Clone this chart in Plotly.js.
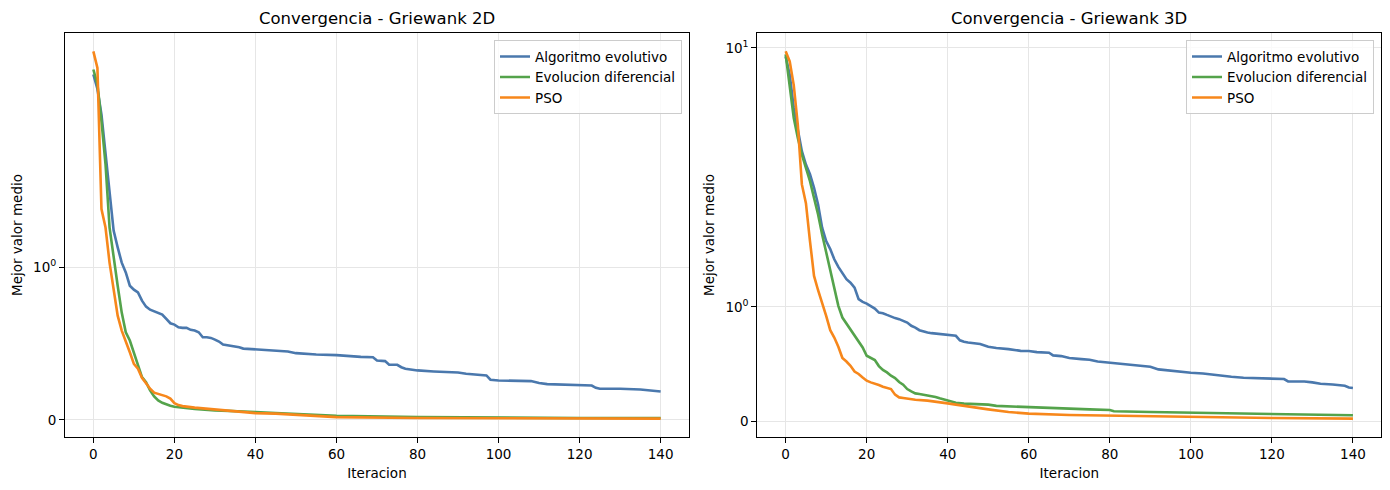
<!DOCTYPE html>
<html lang="es">
<head>
<meta charset="utf-8">
<title>Convergencia - Griewank</title>
<script src="https://cdn.plot.ly/plotly-3.0.1.min.js"></script>
<style>
  html, body { margin: 0; padding: 0; background: #ffffff; }
  #grafico { width: 1390px; height: 490px; }
</style>
</head>
<body>
<div id="grafico"></div>
<script>
// Valores (mejor valor medio por iteracion)
const nombres = ['Algoritmo evolutivo', 'Evolucion diferencial', 'PSO'];
const colores = ['#4a78ad', '#54a34b', '#f7871b'];
const titulos = ['Convergencia - Griewank 2D', 'Convergencia - Griewank 3D'];

// Griewank 2D
const iterAe2d = [0, 1, 2, 3, 4, 5, 6, 7, 8, 9, 10, 11, 12, 13, 14, 15, 16, 17, 18, 19, 20,
  21, 22, 23, 24, 25, 26, 27, 28, 29, 30, 31, 32, 33, 34, 35, 36, 37, 38, 39, 40,
  45, 48, 50, 55, 60, 62, 64, 66, 69, 70, 72, 73, 75, 76, 77, 80, 84, 90, 92, 95,
  97, 98, 100, 108, 110, 112, 121, 123, 124, 125, 130, 135, 140];
const valAe2d = [2.80, 2.48, 2.00, 1.76, 1.50, 1.24, 1.13, 1.03, 0.966, 0.879, 0.853,
  0.835, 0.781, 0.742, 0.722, 0.711, 0.705, 0.690, 0.661, 0.633, 0.624,
  0.607, 0.603, 0.603, 0.590, 0.585, 0.574, 0.541, 0.541, 0.537, 0.526,
  0.513, 0.493, 0.489, 0.487, 0.482, 0.476, 0.467, 0.465, 0.465, 0.461,
  0.450, 0.448, 0.437, 0.428, 0.424, 0.420, 0.415, 0.413, 0.410, 0.389, 0.385, 0.361,
  0.361, 0.345, 0.335, 0.324, 0.317, 0.310, 0.302, 0.297, 0.291, 0.263, 0.258, 0.254,
  0.241, 0.234, 0.227, 0.225, 0.210, 0.204, 0.204, 0.199, 0.186];

const iterDe2d = [0, 1, 2, 3, 4, 5, 6, 7, 8, 9, 10, 11, 12, 13, 14, 15, 16, 17, 18, 19, 20,
  21, 22, 25, 30, 35, 40, 45, 60, 80, 100, 120, 140];
const valDe2d = [2.92, 2.58, 1.957, 1.675, 1.26, 1.062, 0.879, 0.703, 0.574, 0.520, 0.435,
  0.356, 0.280, 0.247, 0.193, 0.154, 0.127, 0.112, 0.101, 0.093, 0.086,
  0.083, 0.080, 0.071, 0.062, 0.058, 0.051, 0.044, 0.027, 0.018, 0.014, 0.012, 0.012];

const iterPso2d = [0, 1, 2, 3, 4, 5, 6, 7, 8, 9, 10, 11, 12, 13, 14, 15, 16, 17, 18, 19, 20,
  21, 22, 25, 30, 35, 40, 45, 60, 80, 140];
const valPso2d = [3.40, 2.96, 1.382, 1.260, 1.029, 0.846, 0.683, 0.585, 0.520, 0.443, 0.367,
  0.335, 0.276, 0.237, 0.204, 0.178, 0.171, 0.160, 0.154, 0.139, 0.110,
  0.097, 0.090, 0.080, 0.067, 0.058, 0.044, 0.041, 0.018, 0.012, 0.008];

// Griewank 3D
const iterAe3d = [0, 1, 2, 3, 4, 5, 6, 7, 8, 9, 10, 11, 12, 13, 14, 15, 16, 17, 18, 19, 20,
  21, 22, 23, 24, 25, 26, 27, 28, 29, 30, 31, 32, 33, 34, 35, 36, 37, 38, 39, 40, 41, 42,
  43, 44, 45, 48, 50, 52, 55, 58, 60, 62, 65, 66, 68, 70, 73, 75, 77, 80, 83, 87, 90,
  92, 95, 97, 100, 103, 105, 108, 110, 113, 117, 120, 123, 124, 128, 130, 132, 135,
  138, 139, 140];
const valAe3d = [9.08, 7.41, 5.11, 4.09, 3.16, 2.72, 2.44, 2.10, 1.893, 1.690, 1.574,
  1.504, 1.415, 1.348, 1.298, 1.241, 1.211, 1.168, 1.067, 1.043, 1.029,
  1.009, 0.985, 0.950, 0.945, 0.930, 0.913, 0.902, 0.893, 0.878, 0.863,
  0.835, 0.820, 0.797, 0.785, 0.777, 0.771, 0.768, 0.765, 0.763, 0.759, 0.757, 0.748,
  0.709, 0.696, 0.690, 0.676, 0.652, 0.641, 0.632, 0.617, 0.615, 0.606, 0.600, 0.577,
  0.571, 0.554, 0.545, 0.539, 0.524, 0.513, 0.502, 0.493, 0.478, 0.455, 0.443, 0.432,
  0.426, 0.420, 0.411, 0.403, 0.391, 0.383, 0.380, 0.377, 0.371, 0.350, 0.350, 0.342,
  0.330, 0.324, 0.313, 0.298, 0.293];

const iterDe3d = [0, 1, 2, 3, 4, 5, 6, 7, 8, 9, 10, 11, 12, 13, 14, 15, 16, 17, 18, 19, 20,
  21, 22, 23, 24, 25, 26, 27, 28, 29, 30, 31, 32, 33, 34, 35, 36, 37, 38,
  40, 42, 44, 46, 48, 50, 52, 55, 60, 65, 70, 75, 80, 81, 90, 100, 110, 120, 130, 140];
const valDe3d = [9.29, 6.58, 4.57, 3.66, 3.04, 2.62, 2.26, 1.950, 1.806, 1.632, 1.472,
  1.304, 1.139, 1.009, 0.907, 0.855, 0.806, 0.748, 0.696, 0.646, 0.574,
  0.559, 0.537, 0.484, 0.450, 0.429, 0.400, 0.380, 0.345, 0.322, 0.284,
  0.263, 0.246, 0.241, 0.235, 0.229, 0.223, 0.215, 0.203,
  0.183, 0.165, 0.157, 0.154, 0.151, 0.148, 0.137, 0.133, 0.122, 0.119, 0.110, 0.107,
  0.102, 0.090, 0.084, 0.078, 0.072, 0.067, 0.063, 0.055];

const iterPso3d = [0, 1, 2, 3, 4, 5, 6, 7, 8, 9, 10, 11, 12, 13, 14, 15, 16, 17, 18, 19, 20,
  21, 22, 23, 24, 25, 26, 27, 28, 29, 30,
  32, 35, 38, 40, 42, 44, 46, 50, 55, 58, 60, 70, 80, 90, 100, 110, 120, 140];
const valPso3d = [9.61, 8.59, 6.58, 4.24, 2.18, 1.904, 1.574, 1.270, 1.145, 1.037, 0.922,
  0.797, 0.733, 0.652, 0.554, 0.524, 0.487, 0.437, 0.415, 0.385, 0.357,
  0.342, 0.333, 0.319, 0.304, 0.293, 0.284, 0.235, 0.211, 0.206, 0.200,
  0.191, 0.183, 0.171, 0.159, 0.148, 0.137, 0.124, 0.107, 0.084, 0.072, 0.070,
  0.058, 0.052, 0.046, 0.043, 0.037, 0.032, 0.026];

const ticksX = [0, 20, 40, 60, 80, 100, 120, 140];

const App = {
  // escala symlog como la de matplotlib (linthresh = 2, base 10)
  umbral: 2,
  escalaLineal: 1 / (1 - 1 / 10),

  symlog(v) {
    const t = this.umbral;
    const a = Math.abs(v);
    if (a <= t) return v * this.escalaLineal;
    return Math.sign(v) * t * (this.escalaLineal + Math.log10(a / t));
  },

  rango(series) {
    const todos = series.flat().map(v => this.symlog(v));
    const min = Math.min(...todos);
    const max = Math.max(...todos);
    const pad = (max - min) * 0.05;
    return [min - pad, max + pad];
  },

  ejeX(dominio, ancla) {
    return {
      domain: dominio,
      anchor: ancla,
      range: [-7, 147],
      tickvals: ticksX,
      ticks: 'outside',
      ticklen: 5,
      tickwidth: 1,
      tickcolor: '#000000',
      showline: true,
      mirror: true,
      linecolor: '#000000',
      linewidth: 1,
      showgrid: true,
      gridcolor: '#e6e6e6',
      gridwidth: 1,
      zeroline: false,
      tickfont: { family: 'DejaVu Sans', size: 13.5, color: '#000000' },
      title: { text: 'Iteracion', standoff: 7, font: { family: 'DejaVu Sans', size: 13.5, color: '#000000' } }
    };
  },

  ejeY(dominio, ancla, rango, maxDecada) {
    const vals = [0];
    const textos = ['0'];
    for (let d = 0; d <= maxDecada; d++) {
      vals.push(this.symlog(Math.pow(10, d)));
      textos.push('10<sup>' + d + '</sup>');
    }
    return {
      domain: dominio,
      anchor: ancla,
      range: rango,
      tickvals: vals,
      ticktext: textos,
      ticks: 'outside',
      ticklen: 5,
      tickwidth: 1,
      tickcolor: '#000000',
      showline: true,
      mirror: true,
      linecolor: '#000000',
      linewidth: 1,
      showgrid: true,
      gridcolor: '#e6e6e6',
      gridwidth: 1,
      zeroline: false,
      tickfont: { family: 'DejaVu Sans', size: 13.5, color: '#000000' },
      title: { text: 'Mejor valor medio', standoff: 7, font: { family: 'DejaVu Sans', size: 13.5, color: '#000000' } }
    };
  },

  traza(iters, vals, i, ejeX, ejeY, leyenda) {
    return {
      x: iters,
      y: vals.map(v => this.symlog(v)),
      customdata: vals,
      mode: 'lines',
      name: nombres[i],
      line: { color: colores[i], width: 2.6 },
      xaxis: ejeX,
      yaxis: ejeY,
      legend: leyenda,
      hovertemplate: '%{x}: %{customdata}<extra></extra>'
    };
  },

  leyenda(x) {
    return {
      x: x,
      xanchor: 'right',
      y: 0.918,
      yanchor: 'top',
      bgcolor: 'rgba(255,255,255,0.8)',
      bordercolor: '#cccccc',
      borderwidth: 1,
      font: { family: 'DejaVu Sans', size: 13.5, color: '#000000' }
    };
  },

  titulo(texto, x) {
    return {
      text: texto,
      xref: 'paper',
      yref: 'paper',
      x: x,
      y: 1 - 18 / 490,
      xanchor: 'center',
      yanchor: 'middle',
      showarrow: false,
      font: { family: 'DejaVu Sans', size: 16.5, color: '#000000' }
    };
  },

  graficar() {
    const datos = [
      this.traza(iterAe2d, valAe2d, 0, 'x', 'y', 'legend'),
      this.traza(iterDe2d, valDe2d, 1, 'x', 'y', 'legend'),
      this.traza(iterPso2d, valPso2d, 2, 'x', 'y', 'legend'),
      this.traza(iterAe3d, valAe3d, 0, 'x2', 'y2', 'legend2'),
      this.traza(iterDe3d, valDe3d, 1, 'x2', 'y2', 'legend2'),
      this.traza(iterPso3d, valPso3d, 2, 'x2', 'y2', 'legend2')
    ];

    const domY = [1 - 437 / 490, 1 - 33 / 490];
    const domX1 = [65 / 1390, 689 / 1390];
    const domX2 = [757.3 / 1390, 1381.3 / 1390];

    const layout = {
      width: 1390,
      height: 490,
      margin: { l: 0, r: 0, t: 0, b: 0 },
      paper_bgcolor: '#ffffff',
      plot_bgcolor: '#ffffff',
      showlegend: true,
      xaxis: this.ejeX(domX1, 'y'),
      yaxis: this.ejeY(domY, 'x', this.rango([valAe2d, valDe2d, valPso2d]), 0),
      xaxis2: this.ejeX(domX2, 'y2'),
      yaxis2: this.ejeY(domY, 'x2', this.rango([valAe3d, valDe3d, valPso3d]), 1),
      legend: this.leyenda(682 / 1390),
      legend2: this.leyenda(1374 / 1390),
      annotations: [
        this.titulo(titulos[0], (domX1[0] + domX1[1]) / 2),
        this.titulo(titulos[1], (domX2[0] + domX2[1]) / 2)
      ]
    };

    Plotly.newPlot('grafico', datos, layout, { displayModeBar: false, staticPlot: true });
  }
};

document.addEventListener('DOMContentLoaded', () => {
  App.graficar();
});
</script>
</body>
</html>
